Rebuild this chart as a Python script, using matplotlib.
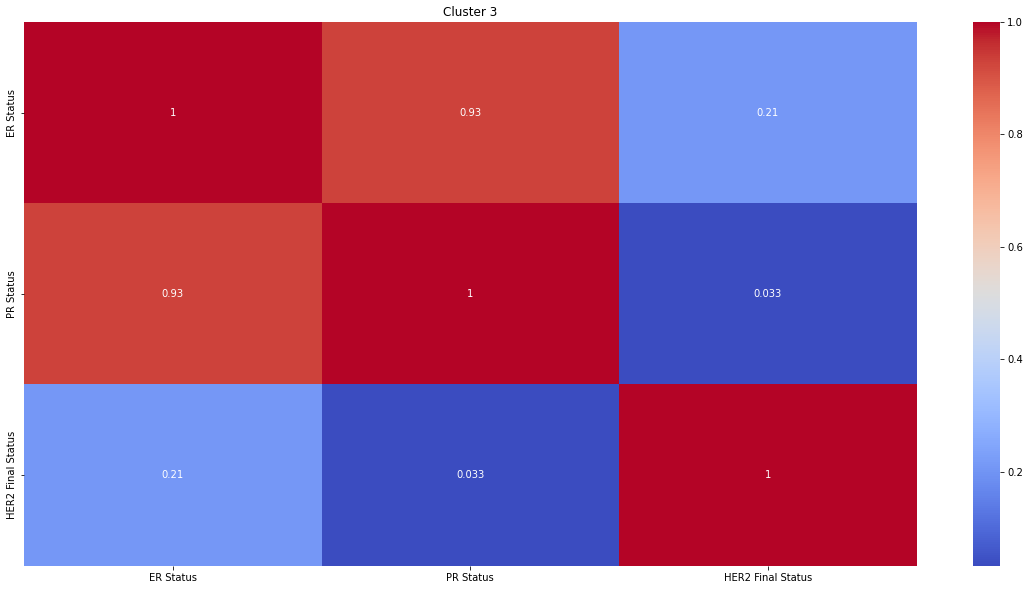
import matplotlib
matplotlib.use("Agg")
import matplotlib.pyplot as plt
import seaborn as sns
import numpy as np
import pandas as pd

labels = ["ER Status", "PR Status", "HER2 Final Status"]
row_er = [1.0, 0.93, 0.21]
row_pr = [0.93, 1.0, 0.033]
row_her2 = [0.21, 0.033, 1.0]
title = "Cluster 3"

df = pd.DataFrame([row_er, row_pr, row_her2], index=labels, columns=labels)

fig = plt.figure(figsize=(1030/72, 590/72), dpi=72)
ax = fig.add_axes([24/1030, 1-565.7/590, (916.7-24)/1030, (565.7-22)/590])
cax = fig.add_axes([973/1030, 1-565.7/590, 27/1030, (565.7-22)/590])
sns.heatmap(df, annot=True, cmap="coolwarm", ax=ax, cbar_ax=cax)
ax.set_title(title)
fig.savefig("out.png", dpi=72)
